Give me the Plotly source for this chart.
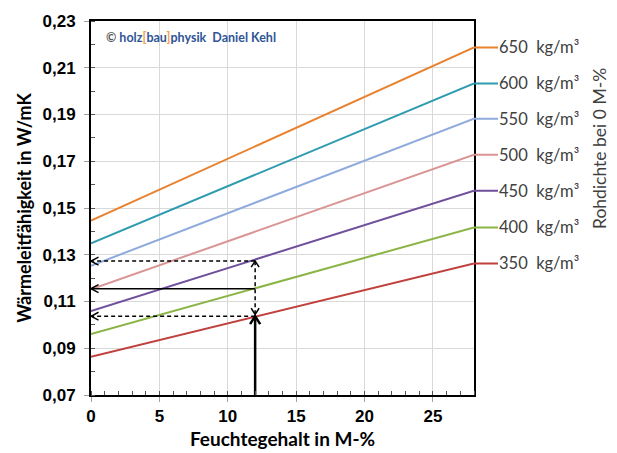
import plotly.graph_objects as go

# ---- data ----
moisture = [0, 28]
densities = [650, 600, 550, 500, 450, 400, 350]
lam_at_0 = [0.1446, 0.1349, 0.1253, 0.1152, 0.1059, 0.0961, 0.0864]
lam_at_28 = [0.2187, 0.2033, 0.1882, 0.1728, 0.1574, 0.1417, 0.1263]
colors = ["#E8822F", "#2E9BB0", "#8FAADC", "#D99594", "#6F4F9B", "#8AB545", "#C0403D"]
x_ticks = [0, 5, 10, 15, 20, 25]
y_ticks = [0.07, 0.09, 0.11, 0.13, 0.15, 0.17, 0.19, 0.21, 0.23]

# example reading (arrows)
ex_u = 12
ex_low = 0.1037
ex_mid = 0.1155
ex_high = 0.1273

fig = go.Figure()

for d, a, b, c in zip(densities, lam_at_0, lam_at_28, colors):
    fig.add_trace(go.Scatter(x=moisture, y=[a, b], mode="lines",
                             line=dict(color=c, width=2), showlegend=False,
                             hoverinfo="skip"))
    fig.add_annotation(x=moisture[-1], y=b, xref="x", yref="y",
                       text=f"{d}  kg/m³", showarrow=True, arrowhead=0,
                       arrowwidth=2, arrowcolor=c, ax=24, ay=0,
                       xanchor="left", yanchor="middle", borderpad=0,
                       font=dict(family="Lato, Carlito, sans-serif", size=16.5, color="#404040"))

black = "#000000"
dash = "4px,3px"
# chevron sizes in data units
hx, hy = 0.55, 0.0017      # horizontal arrowheads
vx, vy = 0.29, 0.0026      # dashed vertical arrowheads
sx, sy = 0.37, 0.0034      # solid vertical arrowhead

def line(xs, ys, width, dsh=None):
    fig.add_trace(go.Scatter(x=xs, y=ys, mode="lines",
                             line=dict(color=black, width=width, dash=dsh),
                             showlegend=False, hoverinfo="skip"))

# solid vertical arrow from bottom to the 350 line
line([ex_u, ex_u], [y_ticks[0], ex_low], 2.5)
line([ex_u - sx, ex_u, ex_u + sx], [ex_low - sy, ex_low, ex_low - sy], 2.5)
# dashed vertical double arrow
line([ex_u, ex_u], [ex_low + 0.0008, ex_high], 1.5, dash)
line([ex_u - vx, ex_u, ex_u + vx], [ex_high - vy, ex_high, ex_high - vy], 1.5)
line([ex_u - vx, ex_u, ex_u + vx], [ex_low + 0.0008 + vy, ex_low + 0.0008, ex_low + 0.0008 + vy], 1.5)
# horizontal arrows to the y axis
for yv, dsh in [(ex_high, dash), (ex_mid, None), (ex_low, dash)]:
    line([ex_u, 0], [yv, yv], 1.5, dsh)
    line([hx, 0, hx], [yv + hy, yv, yv - hy], 1.5)

tickfont = dict(family="Liberation Sans, Arial, sans-serif", size=17, color="black", weight="bold")

fig.update_layout(
    width=617, height=453,
    margin=dict(l=91, r=143, t=21, b=58, autoexpand=False),
    paper_bgcolor="white", plot_bgcolor="white",
    separators=",.",
    xaxis=dict(range=[0, 28], tickvals=x_ticks, ticks="outside", ticklen=5,
               tickcolor="#a0a0a0", tickfont=tickfont, automargin=False,
               showgrid=True, gridcolor="#d9d9d9", gridwidth=1,
               showline=True, linecolor="black", linewidth=2, mirror=True,
               zeroline=False,
               minor=dict(dtick=1, ticks="inside", ticklen=4, tickcolor="#555555",
                          showgrid=False),
               title=dict(text="<b>Feuchtegehalt in M-%</b>", standoff=7,
                          font=dict(family="Lato, Carlito, sans-serif", size=19, color="black"))),
    yaxis=dict(range=[0.07, 0.23], tickvals=y_ticks, tickformat=".2f",
               ticks="outside", ticklen=5, tickcolor="#a0a0a0", tickfont=tickfont,
               ticklabelstandoff=5, automargin=False,
               showgrid=True, gridcolor="#d9d9d9", gridwidth=1,
               showline=True, linecolor="black", linewidth=2, mirror=True,
               zeroline=False,
               minor=dict(dtick=0.01, ticks="inside", ticklen=4, tickcolor="#555555",
                          showgrid=False),
               title=dict(text="<b>Wärmeleitfähigkeit in W/mK</b>", standoff=6,
                          font=dict(family="Lato, Carlito, sans-serif", size=18, color="black"))),
)

# copyright note
fig.add_annotation(
    xref="paper", yref="paper", x=0.034, y=0.957, xanchor="left", yanchor="middle",
    showarrow=False,
    text=("<b><span style='color:#595959'>©</span> "
          "<span style='color:#2F5597'>holz</span><span style='color:#F4A040'>[</span>"
          "<span style='color:#2F5597'>bau</span><span style='color:#F4A040'>]</span>"
          "<span style='color:#2F5597'>physik  Daniel Kehl</span></b>"),
    font=dict(family="Lato, Carlito, sans-serif", size=12.5))

# right-side title
fig.add_annotation(
    xref="paper", yref="paper", x=(599 - 91) / 383, y=(395 - 149) / 374,
    xanchor="center", yanchor="middle", showarrow=False, textangle=-90,
    text="Rohdichte bei 0 M-%",
    font=dict(family="Lato, Carlito, sans-serif", size=17.5, color="#404040"))

fig.write_html("out.html", config={"displayModeBar": False},
               post_script="document.body.style.margin='0px';")
